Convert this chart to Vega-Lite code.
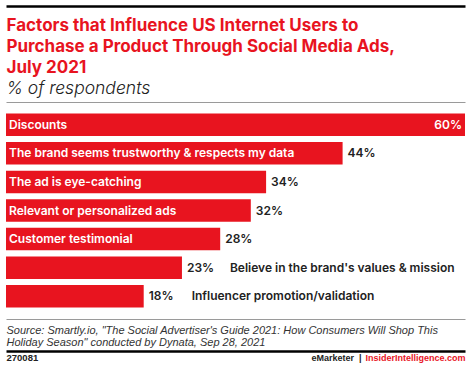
{
  "$schema": "https://vega.github.io/schema/vega-lite/v6.json",
  "width": 459,
  "height": 217,
  "autosize": {"type": "none"},
  "padding": {"left": 6, "top": 102, "right": 5, "bottom": 52},
  "background": "white",
  "config": {"view": {"stroke": null}, "font": "Inter", "axis": {"zindex": 1}},
  "data": {
    "values": [
      {"factor": "Discounts", "value": 60},
      {"factor": "The brand seems trustworthy & respects my data", "value": 44},
      {"factor": "The ad is eye-catching", "value": 34},
      {"factor": "Relevant or personalized ads", "value": 32},
      {"factor": "Customer testimonial", "value": 28},
      {"factor": "Believe in the brand's values & mission", "value": 23},
      {"factor": "Influencer promotion/validation", "value": 18}
    ]
  },
  "transform": [{"calculate": "datum.value + '%'", "as": "pct"}],
  "layer": [
    {
      "mark": {"type": "point", "opacity": 0},
      "encoding": {
        "y": {"field": "value", "type": "quantitative", "scale": {"domain": [0, 60], "nice": false},
              "axis": {"values": [0, 60], "grid": true, "gridColor": "#9a9a9a", "gridWidth": 1,
                       "labels": false, "ticks": false, "domain": false, "title": null, "zindex": 0}}
      }
    },
    {
      "encoding": {
        "y": {"field": "factor", "type": "nominal", "sort": null, "axis": null,
              "scale": {"paddingInner": 0.213, "paddingOuter": 0.4}},
        "x": {"field": "value", "type": "quantitative", "scale": {"domain": [0, 60], "nice": false}, "axis": null}
      },
      "layer": [
        {"mark": {"type": "bar", "color": "#e8141f"}},
        {
          "transform": [{"filter": "datum.value >= 25"}],
          "mark": {"type": "text", "align": "left", "baseline": "middle", "dx": 3, "color": "white",
                   "font": "Inter", "fontSize": 12, "fontWeight": 600},
          "encoding": {
            "x": {"datum": 0, "type": "quantitative", "axis": null},
            "text": {"field": "factor"}
          }
        },
        {
          "transform": [{"filter": "datum.value >= 60"}],
          "mark": {"type": "text", "align": "right", "baseline": "middle", "dx": -3, "color": "white",
                   "font": "Inter", "fontSize": 12, "fontWeight": 600},
          "encoding": {"text": {"field": "pct"}}
        },
        {
          "transform": [{"filter": "datum.value < 60"}],
          "mark": {"type": "text", "align": "left", "baseline": "middle", "dx": 5, "color": "#222222",
                   "font": "Inter", "fontSize": 12, "fontWeight": 600},
          "encoding": {"text": {"field": "pct"}}
        },
        {
          "transform": [{"filter": "datum.value < 25"}],
          "mark": {"type": "text", "align": "left", "baseline": "middle", "dx": 48, "color": "#222222",
                   "font": "Inter", "fontSize": 12, "fontWeight": 600},
          "encoding": {"text": {"field": "factor"}}
        }
      ]
    },
    {
      "mark": {"type": "point", "opacity": 0},
      "encoding": {
        "x": {"field": "value", "type": "quantitative",
              "axis": {"orient": "bottom", "labels": false, "ticks": false, "grid": false, "domain": false,
                       "title": ["Source: Smartly.io, \"The Social Advertiser's Guide 2021: How Consumers Will Shop This", "Holiday Season\" conducted by Dynata, Sep 28, 2021"],
                       "titleAnchor": "start", "titleAlign": "left", "titleBaseline": "alphabetic",
                       "titlePadding": 14, "titleFont": "Liberation Sans", "titleFontSize": 11,
                       "titleFontStyle": "italic", "titleFontWeight": 400, "titleColor": "#333333",
                       "titleLineHeight": 12}}
      }
    },
    {
      "mark": {"type": "point", "opacity": 0},
      "encoding": {
        "x": {"field": "value", "type": "quantitative",
              "axis": {"orient": "top", "labels": false, "ticks": false, "grid": false, "domain": false,
                       "title": "% of respondents", "titleAnchor": "start", "titleAlign": "left",
                       "titleBaseline": "alphabetic", "titlePadding": 9, "titleFont": "Inter",
                       "titleFontSize": 17.5, "titleFontStyle": "italic", "titleFontWeight": 300,
                       "titleColor": "#222222"}}
      }
    },
    {
      "mark": {"type": "point", "opacity": 0},
      "encoding": {
        "x": {"field": "value", "type": "quantitative",
              "axis": {"orient": "top", "labels": false, "ticks": false, "grid": false, "domain": false,
                       "title": ["Factors that Influence US Internet Users to", "Purchase a Product Through Social Media Ads,", "July 2021"],
                       "titleAnchor": "start", "titleAlign": "left",
                       "titleBaseline": "alphabetic", "titlePadding": 30, "titleFont": "Inter",
                       "titleFontSize": 17, "titleFontWeight": 700, "titleColor": "#e8141f",
                       "titleLineHeight": 21}}
      }
    },
    {
      "mark": {"type": "point", "opacity": 0},
      "encoding": {
        "x": {"field": "value", "type": "quantitative",
              "axis": {"orient": "top", "offset": 96, "labels": false, "ticks": false, "grid": false,
                       "domain": true, "domainColor": "#000000", "domainWidth": 2.5,
                       "title": null}}
      }
    },
    {
      "mark": {"type": "point", "opacity": 0},
      "encoding": {
        "x": {"field": "value", "type": "quantitative",
              "axis": {"orient": "bottom", "offset": 32, "labels": false, "ticks": false, "grid": false,
                       "domain": true, "domainColor": "#000000", "domainWidth": 2.5,
                       "title": "270081", "titleAnchor": "start", "titleAlign": "left",
                       "titleBaseline": "alphabetic", "titlePadding": 9, "titleFont": "Liberation Sans",
                       "titleFontSize": 9.5, "titleFontWeight": 700, "titleColor": "#222222"}}
      }
    },
    {
      "mark": {"type": "point", "opacity": 0},
      "encoding": {
        "x": {"field": "value", "type": "quantitative",
              "axis": {"orient": "bottom", "offset": 32, "labels": false, "ticks": false, "grid": false,
                       "domain": false,
                       "title": "InsiderIntelligence.com", "titleAnchor": "end", "titleAlign": "right",
                       "titleBaseline": "alphabetic", "titlePadding": 9, "titleFont": "Liberation Sans",
                       "titleFontSize": 9, "titleFontWeight": 700, "titleColor": "#e8141f"}}
      }
    },
    {
      "mark": {"type": "point", "opacity": 0},
      "encoding": {
        "x": {"field": "value", "type": "quantitative",
              "axis": {"orient": "bottom", "offset": 32, "labels": false, "ticks": false, "grid": false,
                       "domain": false,
                       "title": "eMarketer\u00a0\u00a0|", "titleAnchor": "start", "titleAlign": "right",
                       "titleX": 355,
                       "titleBaseline": "alphabetic", "titlePadding": 9, "titleFont": "Liberation Sans",
                       "titleFontSize": 9, "titleFontWeight": 700, "titleColor": "#222222"}}
      }
    }
  ],
  "resolve": {"scale": {"x": "independent", "y": "independent"}, "axis": {"x": "independent", "y": "independent"}}
}
